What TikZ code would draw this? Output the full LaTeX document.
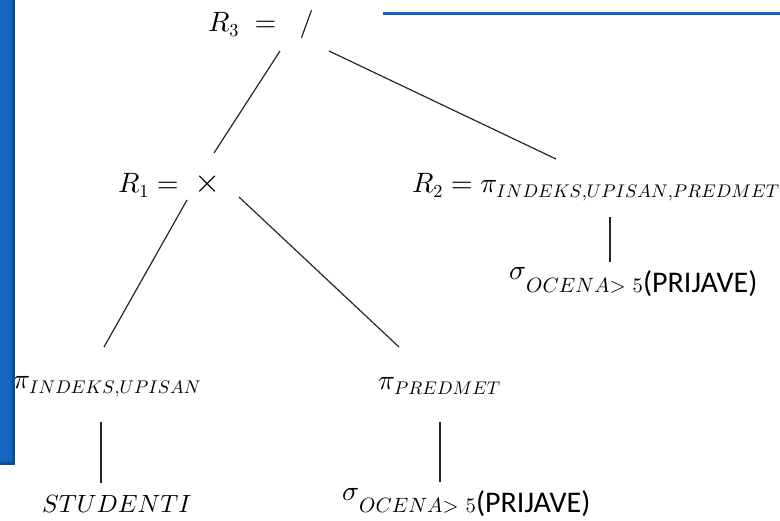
\documentclass[tikz,border=0pt]{standalone}
\usepackage{fontspec}
\setsansfont{Carlito}
\DeclareFontShape{OML}{cmm}{m}{it}{<->cmmi10}{}
\DeclareFontShape{OMS}{cmsy}{m}{n}{<->cmsy10}{}
\DeclareFontShape{OT1}{cmr}{m}{n}{<->cmr10}{}
\DeclareMathSizes{28}{28}{18.3}{14}
\definecolor{plava}{RGB}{21,101,192}
\definecolor{tamnoplava}{RGB}{13,78,150}

\newcommand{\prijave}[1]{\raisebox{13pt}{$\sigma$}{\fontsize{20.7}{22}\selectfont$OCENA{>}\,\,5$}{\sffamily\fontsize{30}{34}\selectfont(#1)}}

\tikzset{izraz/.style = {anchor=base west, inner sep=0pt,
                         font=\fontsize{28}{34}\selectfont},
         grana/.style = {line width=1.2pt, color=black!85}
        }

\begin{document}
\begin{tikzpicture}[x=1pt, y=-1pt]
  \useasboundingbox (0,0) rectangle (780,521);
  \clip (0,0) rectangle (780,521);
  % cvorovi stabla
  \node[izraz] (r3) at (208,32) {$R_3\;=\;\;/$};
  \node[izraz] (r1) at (118,193) {$R_1=\;\scalebox{1.2}{$\times$}$};
  \node[izraz] (r2) at (412,193) {$R_2=\pi_{INDEKS{,}UPISAN{,}PREDMET}$};
  \node[izraz] (s2) at (509,293) {\prijave{PRIJAVE}};
  \node[izraz] (p1) at (13,389) {$\pi_{INDEKS{,}UPISAN}$};
  \node[izraz] (p2) at (378,390) {$\pi_{PREDMET}$};
  \node[izraz, font=\fontsize{24.9}{30}\selectfont] (st) at (42,513) {$STUDENTI$};
  \node[izraz] (s1) at (342,513) {\prijave{PRIJAVE}};
  % krajevi grana
  \foreach \ime/\x/\y in {a/280/51, b/214/153, c/329/51, d/556/159,
                          e/187/200, f/104/347, g/239/197, h/399/347,
                          i/610/217, j/610/262, k/101/422, l/101/483,
                          m/440/422, n/440/482}
      {\coordinate (\ime) at (\x,\y);};
  \foreach \od/\do in {a/b, c/d, e/f, g/h, i/j, k/l, m/n}
      {\draw[grana] (\od) -- (\do);};
  % plavi okvir
  \draw[fill=plava, draw=tamnoplava, line width=3pt] (-5,-5) rectangle (13.5,463.5);
  \draw[plava, line width=3pt] (383,14) -- (785,14);
\end{tikzpicture}
\end{document}
